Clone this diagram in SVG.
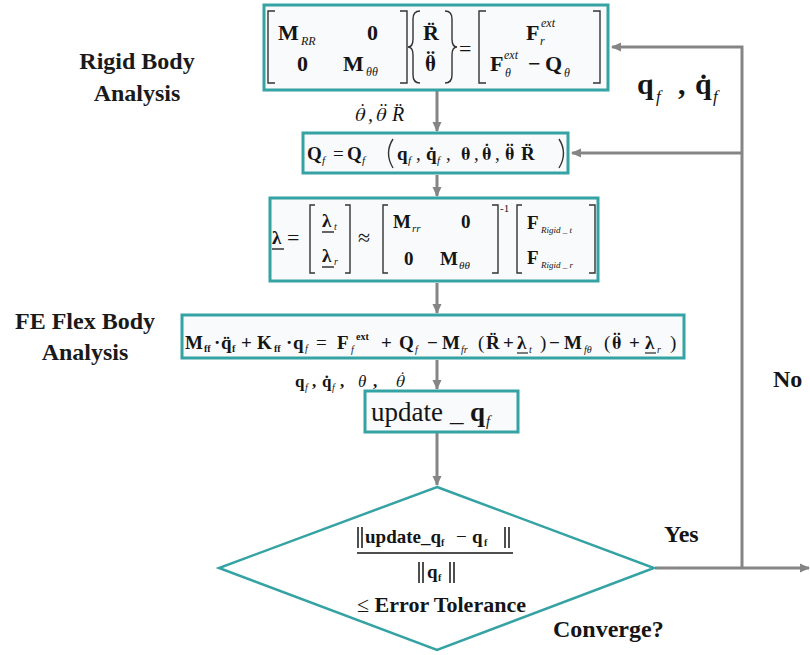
<svg xmlns="http://www.w3.org/2000/svg" width="810" height="655" viewBox="0 0 810 655" font-family="Liberation Serif">
<defs>
<style>
.box{fill:#f8fafb;stroke:#35a2a4;stroke-width:3}
.dia{fill:#ffffff;stroke:#35a2a4;stroke-width:2.5}
.conn{stroke:#858585;stroke-width:3;fill:none}
.br{stroke:#333;stroke-width:1.4;fill:none}
.t{fill:#151515;font-family:Liberation Serif!important}
.b{font-weight:bold}
.i{font-style:italic;font-weight:normal}
.n{font-weight:normal}
.t.g{font-family:FreeSerif!important}
.lbl{font-weight:bold;font-size:24px;fill:#1a1a1a;text-anchor:middle}
</style>
<marker id="ah" markerUnits="userSpaceOnUse" markerWidth="10" markerHeight="10" refX="9" refY="5" orient="auto">
<path d="M0,0.5 L10,5 L0,9.5 z" fill="#858585"/>
</marker>
</defs>
<rect width="810" height="655" fill="#ffffff"/>

<g id="labels">
<text class="t lbl" x="137" y="69">Rigid Body</text>
<text class="t lbl" x="137" y="101">Analysis</text>
<text class="t lbl" x="85" y="329">FE Flex Body</text>
<text class="t lbl" x="85" y="360">Analysis</text>
</g>

<g id="connectors">
<line class="conn" x1="437" y1="91" x2="437" y2="131" marker-end="url(#ah)"/>
<line class="conn" x1="437" y1="175" x2="437" y2="196" marker-end="url(#ah)"/>
<line class="conn" x1="437" y1="283" x2="437" y2="313" marker-end="url(#ah)"/>
<line class="conn" x1="437" y1="360" x2="437" y2="389" marker-end="url(#ah)"/>
<line class="conn" x1="437" y1="433" x2="437" y2="485" marker-end="url(#ah)"/>
<line class="conn" x1="655" y1="568" x2="809" y2="568" marker-end="url(#ah)"/>
<path class="conn" d="M742,568 V47 H612" marker-end="url(#ah)"/>
<line class="conn" x1="742" y1="153" x2="572" y2="153" marker-end="url(#ah)"/>
<g font-size="30">
<text class="t b" x="637" y="94">q</text>
<text class="t i" x="656" y="102" font-size="17">f</text>
<text class="t b" x="678" y="94">,</text>
<text class="t b" x="695" y="94">q&#x307;</text>
<text class="t i" x="713" y="102" font-size="17">f</text>
</g>
<text class="t b" x="773" y="387" font-size="24">No</text>
<text class="t b" x="664" y="542" font-size="24">Yes</text>
<text class="t b" x="553" y="637" font-size="24">Converge?</text>
<g font-size="20">
<text class="t i g" x="355" y="121">θ&#x307;</text>
<text class="t i" x="368" y="121">,</text>
<text class="t i g" x="376" y="121">θ&#x308;</text>
<text class="t i" x="392" y="121">R&#x308;</text>
</g>
<g font-size="17">
<text class="t b" x="295" y="387">q</text>
<text class="t i" x="305" y="391" font-size="10">f</text>
<text class="t b" x="312" y="387">,</text>
<text class="t b" x="322" y="387">q&#x307;</text>
<text class="t i" x="332" y="391" font-size="10">f</text>
<text class="t b" x="340" y="387">,</text>
<text class="t i" x="358" y="387">θ</text>
<text class="t b" x="373" y="387">,</text>
<text class="t i g" x="396" y="387">θ&#x307;</text>
</g>
</g>

<g id="node-rigid">
<rect class="box" x="264" y="5" width="344" height="85"/>
<path class="br" d="M275,11 H268 V83 H275"/>
<path class="br" d="M400,11 H407 V83 H400"/>
<path class="br" d="M420,11 Q413,11 413,19 V39 Q413,47 408,47 Q413,47 413,55 V75 Q413,83 420,83"/>
<path class="br" d="M445,11 Q452,11 452,19 V39 Q452,47 457,47 Q452,47 452,55 V75 Q452,83 445,83"/>
<path class="br" d="M486,11 H479 V83 H486"/>
<path class="br" d="M593,11 H600 V83 H593"/>
<g font-size="22">
<text class="t b" x="278" y="40">M</text>
<text class="t i" x="301" y="45" font-size="12">RR</text>
<text class="t b" x="367" y="40">0</text>
<text class="t b" x="297" y="71">0</text>
<text class="t b" x="343" y="71">M</text>
<text class="t i" x="366" y="76" font-size="12">θθ</text>
<text class="t b" x="423" y="40">R&#x308;</text>
<text class="t b g" x="425" y="71">θ&#x308;</text>
<text class="t n" x="459" y="56">=</text>
<text class="t b" x="526" y="40">F</text>
<text class="t i" x="540" y="45" font-size="12">r</text>
<text class="t i" x="541" y="27" font-size="12">ext</text>
<text class="t b" x="490" y="71">F</text>
<text class="t i" x="505" y="77" font-size="12">θ</text>
<text class="t i" x="504" y="59" font-size="12">ext</text>
<text class="t b" x="528" y="71">−</text>
<text class="t b" x="545" y="71">Q</text>
<text class="t i" x="564" y="77" font-size="12">θ</text>
</g>
</g>

<g id="node-qf">
<rect class="box" x="303" y="133" width="265" height="40"/>
<path class="br" d="M393,139 Q384,153 393,168"/>
<path class="br" d="M559,139 Q568,153 559,168"/>
<g font-size="19">
<text class="t b" x="307" y="160">Q</text>
<text class="t i" x="322" y="164" font-size="11">f</text>
<text class="t n" x="333" y="160">=</text>
<text class="t b" x="347" y="160">Q</text>
<text class="t i" x="362" y="164" font-size="11">f</text>
<text class="t b" x="397" y="160">q</text>
<text class="t i" x="408" y="164" font-size="11">f</text>
<text class="t n" x="416" y="160">,</text>
<text class="t b" x="426" y="160">q&#x307;</text>
<text class="t i" x="437" y="164" font-size="11">f</text>
<text class="t n" x="446" y="160">,</text>
<text class="t b g" x="461" y="160">θ</text>
<text class="t n" x="474" y="160">,</text>
<text class="t b g" x="482" y="160">θ&#x307;</text>
<text class="t n" x="495" y="160">,</text>
<text class="t b g" x="505" y="160">θ&#x308;</text>
<text class="t b" x="521" y="160">R&#x308;</text>
</g>
</g>

<g id="node-lambda">
<rect class="box" x="270" y="198" width="328" height="83"/>
<path class="br" d="M315,205 H310 V273 H315"/>
<path class="br" d="M345,205 H350 V273 H345"/>
<path class="br" d="M388,205 H383 V273 H388"/>
<path class="br" d="M492,205 H498 V273 H492"/>
<path class="br" d="M522,205 H517 V273 H522"/>
<path class="br" d="M589,205 H595 V273 H589"/>
<g stroke="#151515" stroke-width="1.3">
<line x1="272" y1="249" x2="284" y2="249"/>
<line x1="322" y1="232" x2="334" y2="232"/>
<line x1="322" y1="267" x2="334" y2="267"/>
</g>
<g font-size="19">
<text class="t b" x="272" y="244">λ</text>
<text class="t n" x="287" y="245" font-size="22">=</text>
<text class="t b" x="322" y="227">λ</text>
<text class="t i" x="334" y="230" font-size="10">t</text>
<text class="t b" x="322" y="262">λ</text>
<text class="t i" x="334" y="265" font-size="10">r</text>
<text class="t n" x="358" y="245" font-size="22">≈</text>
<text class="t b" x="393" y="228">M</text>
<text class="t i" x="412" y="232" font-size="11">rr</text>
<text class="t b" x="461" y="228">0</text>
<text class="t b" x="404" y="265">0</text>
<text class="t b" x="440" y="265">M</text>
<text class="t i" x="459" y="269" font-size="11">θθ</text>
<text class="t n" x="500" y="212" font-size="11">-1</text>
<text class="t b" x="527" y="229">F</text>
<text class="t i" x="541" y="233" font-size="9">Rigid _ t</text>
<text class="t b" x="527" y="264">F</text>
<text class="t i" x="541" y="268" font-size="9">Rigid _ r</text>
</g>
</g>

<g id="node-fe">
<rect class="box" x="182" y="315" width="502" height="43"/>
<g font-size="19">
<text class="t b" x="185" y="349">M</text>
<text class="t b" x="204" y="352" font-size="10">ff</text>
<text class="t b" x="214" y="349">·</text>
<text class="t b" x="221" y="349">q&#x308;</text>
<text class="t b" x="232" y="352" font-size="10">f</text>
<text class="t b" x="241" y="349">+</text>
<text class="t b" x="257" y="349">K</text>
<text class="t b" x="274" y="352" font-size="10">ff</text>
<text class="t b" x="286" y="349">·</text>
<text class="t b" x="293" y="349">q</text>
<text class="t i" x="305" y="352" font-size="10">f</text>
<text class="t n" x="316" y="349">=</text>
<text class="t b" x="337" y="349">F</text>
<text class="t i" x="351" y="353" font-size="10">f</text>
<text class="t b" x="356" y="340" font-size="10">ext</text>
<text class="t b" x="381" y="349">+</text>
<text class="t b" x="399" y="349">Q</text>
<text class="t i" x="415" y="353" font-size="10">f</text>
<text class="t b" x="427" y="349">−</text>
<text class="t b" x="442" y="349">M</text>
<text class="t i" x="461" y="353" font-size="10">fr</text>
<text class="t n" x="478" y="349">(</text>
<text class="t b" x="486" y="349">R&#x308;</text>
<text class="t b" x="503" y="349">+</text>
<text class="t b" x="517" y="349">λ</text>
<text class="t i" x="529" y="353" font-size="10">t</text>
<text class="t n" x="540" y="349">)</text>
<text class="t b" x="549" y="349">−</text>
<text class="t b" x="564" y="349">M</text>
<text class="t i" x="584" y="353" font-size="10">fθ</text>
<text class="t n" x="604" y="349">(</text>
<text class="t b g" x="612" y="349">θ&#x308;</text>
<text class="t b" x="629" y="349">+</text>
<text class="t b" x="645" y="349">λ</text>
<text class="t i" x="657" y="353" font-size="10">r</text>
<text class="t n" x="670" y="349">)</text>
</g>
<g stroke="#151515" stroke-width="1.1">
<line x1="517" y1="353" x2="528" y2="353"/>
<line x1="645" y1="353" x2="656" y2="353"/>
</g>
</g>

<g id="node-update">
<rect class="box" x="365" y="391" width="153" height="41"/>
<text class="t" x="371" y="421" font-size="27">update</text>
<text class="t" x="450" y="421" font-size="27">_</text>
<text class="t b" x="470" y="421" font-size="27">q</text>
<text class="t i" x="486" y="426" font-size="15">f</text>
</g>

<g id="node-converge">
<polygon class="dia" points="437,487 654,568 437,650 219,568"/>
<g stroke="#151515" stroke-width="1.5">
<line x1="358" y1="527" x2="358" y2="548"/>
<line x1="362" y1="527" x2="362" y2="548"/>
<line x1="505" y1="527" x2="505" y2="548"/>
<line x1="509" y1="527" x2="509" y2="548"/>
<line x1="357" y1="553" x2="513" y2="553"/>
<line x1="419" y1="562" x2="419" y2="583"/>
<line x1="423" y1="562" x2="423" y2="583"/>
<line x1="450" y1="562" x2="450" y2="583"/>
<line x1="454" y1="562" x2="454" y2="583"/>
</g>
<g font-size="19">
<text class="t b" x="365" y="543">update_q</text>
<text class="t b" x="441" y="546" font-size="10">f</text>
<text class="t n" x="456" y="543">−</text>
<text class="t b" x="472" y="543">q</text>
<text class="t b" x="484" y="546" font-size="10">f</text>
<text class="t b" x="427" y="578">q</text>
<text class="t b" x="438" y="581" font-size="10">f</text>
</g>
<text class="t b" x="357" y="612" font-size="22"><tspan class="n">≤</tspan> Error  Tolerance</text>
</g>
</svg>
